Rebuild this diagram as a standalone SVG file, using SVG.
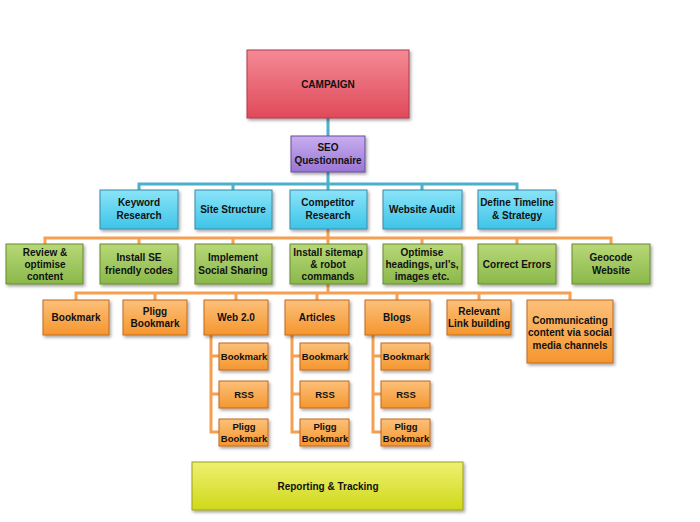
<svg xmlns="http://www.w3.org/2000/svg" width="700" height="522" viewBox="0 0 700 522">
<style>
text{font-family:"Liberation Sans",Arial,sans-serif;font-weight:bold;font-size:10px;fill:#111;text-anchor:middle}
text.s{font-size:9.5px}
.b{stroke-width:1;filter:url(#sh)}
.red{fill:url(#gr);stroke:#b03a4a}.pur{fill:url(#gp);stroke:#6a4a9a}.blu{fill:url(#gb);stroke:#3a8aa8}
.grn{fill:url(#gg);stroke:#6a8a30}.org{fill:url(#go);stroke:#c06a20}.yel{fill:url(#gy);stroke:#9aa020}
.cb{fill:none;stroke:#4ab0cc;stroke-width:3}.co{fill:none;stroke:#f5a050;stroke-width:3}
</style>
<defs>
<filter id="sh" x="-10%" y="-10%" width="130%" height="140%"><feDropShadow dx="1.5" dy="2" stdDeviation="1.5" flood-opacity="0.35"/></filter>
<linearGradient id="gr" x1="0" y1="0" x2="0" y2="1"><stop offset="0" stop-color="#f48a96"/><stop offset="1" stop-color="#e04a5a"/></linearGradient>
<linearGradient id="gp" x1="0" y1="0" x2="0" y2="1"><stop offset="0" stop-color="#c8aef0"/><stop offset="1" stop-color="#9a76d4"/></linearGradient>
<linearGradient id="gb" x1="0" y1="0" x2="0" y2="1"><stop offset="0" stop-color="#8ae4f8"/><stop offset="1" stop-color="#3ec4e8"/></linearGradient>
<linearGradient id="gg" x1="0" y1="0" x2="0" y2="1"><stop offset="0" stop-color="#b8d878"/><stop offset="1" stop-color="#8ab84a"/></linearGradient>
<linearGradient id="go" x1="0" y1="0" x2="0" y2="1"><stop offset="0" stop-color="#fcc07a"/><stop offset="1" stop-color="#f5962e"/></linearGradient>
<linearGradient id="gy" x1="0" y1="0" x2="0" y2="1"><stop offset="0" stop-color="#eef070"/><stop offset="1" stop-color="#d0d81a"/></linearGradient>
</defs>
<g id="connectors">
<path class="cb" d="M328 118V136M328 172V184M139 190V184H517V190M233 184V190M422 184V190M328 184V190"/>
<path class="co" d="M328 229V238M45 244V238H611V244M139 238V244M233 238V244M422 238V244M517 238V244M328 238V244"/>
<path class="co" d="M328 284V293M76 300V293H570V300M155 293V300M236 293V300M317 293V300M397 293V300M479 293V300"/>
<path class="co" d="M211 335V432H219M211 356H219M211 394H219M292 335V432H300M292 356H300M292 394H300M373 335V432H381M373 356H381M373 394H381"/>
</g>
<g id="campaign"><rect class="b red" x="247" y="50" width="162" height="68"/><text x="328" y="88">CAMPAIGN</text></g>
<g id="seo"><rect class="b pur" x="291" y="136" width="74" height="36"/><text x="328" y="151">SEO</text><text x="328" y="164">Questionnaire</text></g>
<g id="keyword"><rect class="b blu" x="100" y="190" width="78" height="39"/><text x="139" y="206">Keyword</text><text x="139" y="219">Research</text></g>
<g id="site"><rect class="b blu" x="195" y="190" width="77" height="39"/><text x="233" y="213">Site Structure</text></g>
<g id="competitor"><rect class="b blu" x="290" y="190" width="77" height="39"/><text x="328" y="206">Competitor</text><text x="328" y="219">Research</text></g>
<g id="audit"><rect class="b blu" x="383" y="190" width="79" height="39"/><text x="422" y="213">Website Audit</text></g>
<g id="timeline"><rect class="b blu" x="478" y="190" width="78" height="39"/><text x="517" y="206">Define Timeline</text><text x="517" y="219">&amp; Strategy</text></g>
<g id="review"><rect class="b grn" x="6" y="244" width="77" height="40"/><text x="45" y="256">Review &amp;</text><text x="45" y="268">optimise</text><text x="45" y="280">content</text></g>
<g id="installse"><rect class="b grn" x="100" y="244" width="78" height="40"/><text x="139" y="261">Install SE</text><text x="139" y="274">friendly codes</text></g>
<g id="social"><rect class="b grn" x="195" y="244" width="77" height="40"/><text x="233" y="261">Implement</text><text x="233" y="274">Social Sharing</text></g>
<g id="sitemap"><rect class="b grn" x="290" y="244" width="77" height="40"/><text x="328" y="256">Install sitemap</text><text x="328" y="268">&amp; robot</text><text x="328" y="280">commands</text></g>
<g id="optimise"><rect class="b grn" x="383" y="244" width="79" height="40"/><text x="422" y="256">Optimise</text><text x="422" y="268">headings, url’s,</text><text x="422" y="280">images etc.</text></g>
<g id="errors"><rect class="b grn" x="478" y="244" width="78" height="40"/><text x="517" y="268">Correct Errors</text></g>
<g id="geocode"><rect class="b grn" x="572" y="244" width="78" height="40"/><text x="611" y="261">Geocode</text><text x="611" y="274">Website</text></g>
<g id="bookmark"><rect class="b org" x="43" y="300" width="66" height="35"/><text x="76" y="321">Bookmark</text></g>
<g id="pligg"><rect class="b org" x="123" y="300" width="64" height="35"/><text x="155" y="315">Pligg</text><text x="155" y="327">Bookmark</text></g>
<g id="web20"><rect class="b org" x="204" y="300" width="64" height="35"/><text x="236" y="321">Web 2.0</text></g>
<g id="articles"><rect class="b org" x="285" y="300" width="64" height="35"/><text x="317" y="321">Articles</text></g>
<g id="blogs"><rect class="b org" x="365" y="300" width="65" height="35"/><text x="397" y="321">Blogs</text></g>
<g id="relevant"><rect class="b org" x="447" y="300" width="64" height="35"/><text x="479" y="315">Relevant</text><text x="479" y="327">Link building</text></g>
<g id="communicating"><rect class="b org" x="527" y="300" width="86" height="63"/><text x="570" y="324">Communicating</text><text x="570" y="336">content via social</text><text x="570" y="349">media channels</text></g>
<g id="web-bookmark"><rect class="b org" x="219" y="343" width="49" height="27"/><text class="s" x="244" y="360">Bookmark</text></g>
<g id="web-rss"><rect class="b org" x="219" y="381" width="49" height="27"/><text class="s" x="244" y="398">RSS</text></g>
<g id="web-pligg"><rect class="b org" x="219" y="419" width="49" height="27"/><text class="s" x="244" y="430">Pligg</text><text class="s" x="244" y="442">Bookmark</text></g>
<g id="art-bookmark"><rect class="b org" x="300" y="343" width="49" height="27"/><text class="s" x="325" y="360">Bookmark</text></g>
<g id="art-rss"><rect class="b org" x="300" y="381" width="49" height="27"/><text class="s" x="325" y="398">RSS</text></g>
<g id="art-pligg"><rect class="b org" x="300" y="419" width="49" height="27"/><text class="s" x="325" y="430">Pligg</text><text class="s" x="325" y="442">Bookmark</text></g>
<g id="blog-bookmark"><rect class="b org" x="381" y="343" width="49" height="27"/><text class="s" x="406" y="360">Bookmark</text></g>
<g id="blog-rss"><rect class="b org" x="381" y="381" width="49" height="27"/><text class="s" x="406" y="398">RSS</text></g>
<g id="blog-pligg"><rect class="b org" x="381" y="419" width="49" height="27"/><text class="s" x="406" y="430">Pligg</text><text class="s" x="406" y="442">Bookmark</text></g>
<g id="reporting"><rect class="b yel" x="192" y="462" width="271" height="48"/><text x="328" y="490">Reporting &amp; Tracking</text></g>
</svg>
